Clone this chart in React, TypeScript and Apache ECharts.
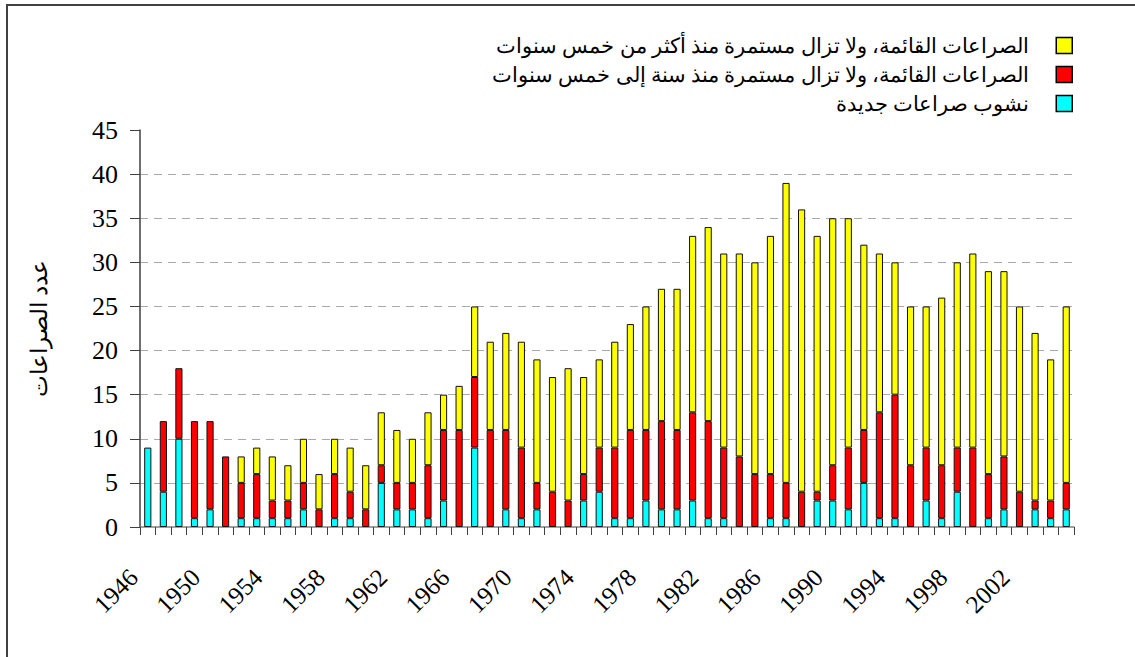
import React, { useEffect, useRef } from "react";
import * as echarts from "echarts";

const years = [
  "1946", "1947", "1948", "1949", "1950", "1951", "1952", "1953", "1954", "1955",
  "1956", "1957", "1958", "1959", "1960", "1961", "1962", "1963", "1964", "1965",
  "1966", "1967", "1968", "1969", "1970", "1971", "1972", "1973", "1974", "1975",
  "1976", "1977", "1978", "1979", "1980", "1981", "1982", "1983", "1984", "1985",
  "1986", "1987", "1988", "1989", "1990", "1991", "1992", "1993", "1994", "1995",
  "1996", "1997", "1998", "1999", "2000", "2001", "2002", "2003", "2004", "2005",
];

// نشوب صراعات جديدة
const newConflicts = [
  9, 4, 10, 1, 2, 0, 1, 1, 1, 1,
  2, 0, 1, 1, 0, 5, 2, 2, 1, 3,
  0, 9, 0, 2, 1, 2, 0, 0, 3, 4,
  1, 1, 3, 2, 2, 3, 1, 1, 0, 0,
  1, 1, 0, 3, 3, 2, 5, 1, 1, 0,
  3, 1, 4, 0, 1, 2, 0, 2, 1, 2,
];

// مستمرة منذ سنة إلى خمس سنوات
const oneToFiveYears = [
  0, 8, 8, 11, 10, 8, 4, 5, 2, 2,
  3, 2, 5, 3, 2, 2, 3, 3, 6, 8,
  11, 8, 11, 9, 8, 3, 4, 3, 3, 5,
  8, 10, 8, 10, 9, 10, 11, 8, 8, 6,
  5, 4, 4, 1, 4, 7, 6, 12, 14, 7,
  6, 6, 5, 9, 5, 6, 4, 1, 2, 3,
];

// مستمرة منذ أكثر من خمس سنوات
const overFiveYears = [
  0, 0, 0, 0, 0, 0, 3, 3, 5, 4,
  5, 4, 4, 5, 5, 6, 6, 5, 6, 4,
  5, 8, 10, 11, 12, 14, 13, 15, 11, 10,
  12, 12, 14, 15, 16, 20, 22, 22, 23, 24,
  27, 34, 32, 29, 28, 26, 21, 18, 15, 18,
  16, 19, 21, 22, 23, 21, 21, 19, 16, 20,
];

const seriesNames = [
  "نشوب صراعات جديدة",
  "الصراعات القائمة، ولا تزال مستمرة منذ سنة إلى خمس سنوات",
  "الصراعات القائمة، ولا تزال مستمرة منذ أكثر من خمس سنوات",
];
const seriesColors = ["#00FFFF", "#FF0000", "#FFFF00"];
const yAxisTitle = "عدد الصراعات";

const serif = "Liberation Serif";

export default function App() {
  const ref = useRef<HTMLDivElement>(null);

  useEffect(() => {
    if (!ref.current) return;
    const chart = echarts.init(ref.current, undefined, { renderer: "svg" });
    const values = [newConflicts, oneToFiveYears, overFiveYears];
    const legendTops = [93, 64, 35];

    const xLabelFont = { fontFamily: serif, fontSize: 25, fontWeight: "normal", fontStyle: "normal", color: "#000" };
    const yLabelFont = { fontFamily: serif, fontSize: 26, fontWeight: "normal", fontStyle: "normal", color: "#000" };
    const nameFont = { fontFamily: serif, fontSize: 23, fontWeight: "normal", fontStyle: "normal", color: "#000" };

    const option: any = {
      animation: false,
      backgroundColor: "#ffffff",
      graphic: [
        {
          type: "rect",
          silent: true,
          shape: { x: 7, y: 5, width: 1400, height: 900 },
          style: { fill: "none", stroke: "#404040", lineWidth: 2 },
        },
      ],
      legend: [2, 1, 0].map((i) => ({
        data: [seriesNames[i]],
        right: 62,
        top: legendTops[i],
        padding: 0,
        align: "right",
        orient: "vertical",
        icon: "rect",
        itemWidth: 16,
        itemHeight: 16,
        itemStyle: { borderColor: "#000", borderWidth: 1.5 },
        selectedMode: false,
        textStyle: {
          fontFamily: serif,
          fontSize: 21,
          fontWeight: "normal",
          fontStyle: "normal",
          color: "#000",
          padding: [0, 22, 0, 0],
        },
      })),
      grid: { left: 140, right: 61, top: 130, bottom: 130, containLabel: false },
      xAxis: {
        type: "category",
        data: years,
        boundaryGap: true,
        axisLine: { lineStyle: { color: "#808080", width: 1.5 } },
        axisTick: { show: true, interval: 0, length: 8, lineStyle: { color: "#404040" } },
        axisLabel: {
          interval: 3,
          rotate: 45,
          margin: 32,
          padding: [0, 20, 0, 0],
          textStyle: { ...xLabelFont },
          ...xLabelFont,
        },
        splitLine: { show: false },
      },
      yAxis: {
        type: "value",
        min: 0,
        max: 45,
        interval: 5,
        name: yAxisTitle,
        nameLocation: "middle",
        nameGap: 89,
        nameTextStyle: { ...nameFont },
        axisLine: { show: true, lineStyle: { color: "#404040", width: 1.5 } },
        axisTick: { show: true, inside: false, length: 10, lineStyle: { color: "#404040" } },
        axisLabel: {
          margin: 22,
          textStyle: { ...yLabelFont },
          ...yLabelFont,
        },
        splitLine: {
          show: true,
          showMinLine: false,
          showMaxLine: false,
          lineStyle: { color: "#aaaaaa", type: [8, 6], width: 1 },
        },
      },
      series: [0, 1, 2].map((i) => ({
        name: seriesNames[i],
        type: "bar",
        stack: "total",
        barWidth: "46%",
        data: values[i].map((v) => (v === 0 ? null : v)),
        itemStyle: { color: seriesColors[i], borderColor: "#111", borderWidth: 1 },
      })),
    };

    chart.setOption(option);
    return () => chart.dispose();
  }, []);

  return (
    <div
      ref={ref}
      style={{ position: "absolute", left: 0, top: 0, width: 1135, height: 657 }}
    />
  );
}
